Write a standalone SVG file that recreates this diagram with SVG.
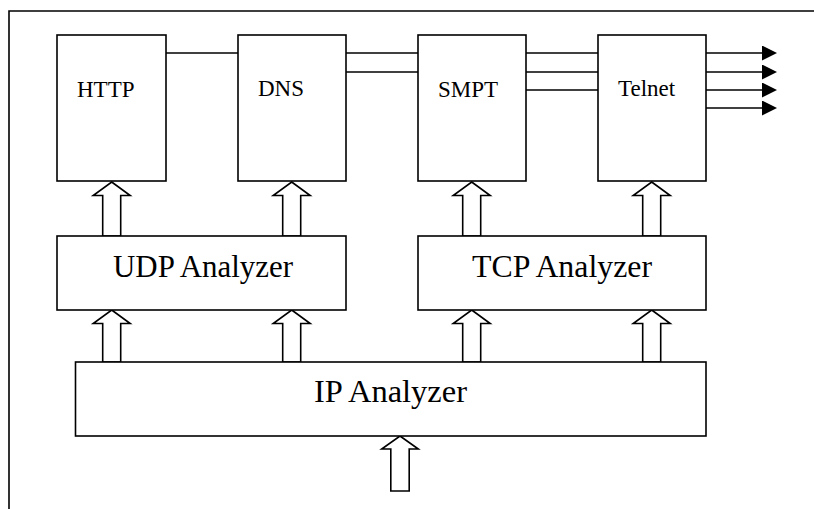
<svg xmlns="http://www.w3.org/2000/svg" width="814" height="509" viewBox="0 0 814 509">
  <style>
    .box { fill: #fff; stroke: #000; stroke-width: 1.6; }
    .ln { stroke: #000; stroke-width: 1.6; fill: none; }
    .hollow { fill: #fff; stroke: #000; stroke-width: 1.6; stroke-linejoin: miter; }
    .sm { font-family: "Liberation Serif", "Times New Roman", serif; font-size: 23px; fill: #000; }
    .lg { font-family: "Liberation Serif", "Times New Roman", serif; font-size: 31px; fill: #000; }
  </style>
  <defs>
    <marker id="tri" markerWidth="15" markerHeight="15" refX="0" refY="7.5" orient="auto" markerUnits="userSpaceOnUse">
      <path d="M0,0 L15,7.5 L0,15 Z" fill="#000"/>
    </marker>
  </defs>
  <rect width="814" height="509" fill="#fff"/>

  <g id="frame">
    <path class="ln" d="M9,509 V11 H814" stroke-width="2"/>
  </g>

  <g id="connectors">
    <line class="ln" x1="166" y1="53" x2="238" y2="53"/>
    <line class="ln" x1="346" y1="53" x2="418" y2="53"/>
    <line class="ln" x1="346" y1="72" x2="418" y2="72"/>
    <line class="ln" x1="526" y1="53" x2="598" y2="53"/>
    <line class="ln" x1="526" y1="72" x2="598" y2="72"/>
    <line class="ln" x1="526" y1="90" x2="598" y2="90"/>
    <line class="ln" x1="706" y1="53" x2="762" y2="53" marker-end="url(#tri)"/>
    <line class="ln" x1="706" y1="72" x2="762" y2="72" marker-end="url(#tri)"/>
    <line class="ln" x1="706" y1="90" x2="762" y2="90" marker-end="url(#tri)"/>
    <line class="ln" x1="706" y1="108" x2="762" y2="108" marker-end="url(#tri)"/>
    <!-- hollow arrows: upper row -->
    <polygon class="hollow" points="111.7,182 130.2,195.5 120.7,195.5 120.7,236 102.7,236 102.7,195.5 93.2,195.5"/>
    <polygon class="hollow" points="291.7,182 310.2,195.5 300.7,195.5 300.7,236 282.7,236 282.7,195.5 273.2,195.5"/>
    <polygon class="hollow" points="471.7,182 490.2,195.5 480.7,195.5 480.7,236 462.7,236 462.7,195.5 453.2,195.5"/>
    <polygon class="hollow" points="651.7,182 670.2,195.5 660.7,195.5 660.7,236 642.7,236 642.7,195.5 633.2,195.5"/>
    <!-- hollow arrows: lower row -->
    <polygon class="hollow" points="111.7,310 130.2,323.5 120.7,323.5 120.7,362 102.7,362 102.7,323.5 93.2,323.5"/>
    <polygon class="hollow" points="291.7,310 310.2,323.5 300.7,323.5 300.7,362 282.7,362 282.7,323.5 273.2,323.5"/>
    <polygon class="hollow" points="471.7,310 490.2,323.5 480.7,323.5 480.7,362 462.7,362 462.7,323.5 453.2,323.5"/>
    <polygon class="hollow" points="651.7,310 670.2,323.5 660.7,323.5 660.7,362 642.7,362 642.7,323.5 633.2,323.5"/>
    <!-- input arrow -->
    <polygon class="hollow" points="400,436 418.3,449 409.2,449 409.2,491 390.8,491 390.8,449 381.7,449"/>
  </g>

  <g id="http">
    <rect class="box" x="57" y="35" width="109" height="146"/>
    <text class="sm" x="77" y="96.5">HTTP</text>
  </g>
  <g id="dns">
    <rect class="box" x="238" y="35" width="108" height="146"/>
    <text class="sm" x="258" y="96">DNS</text>
  </g>
  <g id="smpt">
    <rect class="box" x="418" y="35" width="108" height="146"/>
    <text class="sm" x="438" y="96.5">SMPT</text>
  </g>
  <g id="telnet">
    <rect class="box" x="598" y="35" width="108" height="146"/>
    <text class="sm" x="618" y="96">Telnet</text>
  </g>
  <g id="udp">
    <rect class="box" x="57" y="236" width="289" height="74"/>
    <text class="lg" x="113" y="277" textLength="180" lengthAdjust="spacingAndGlyphs">UDP Analyzer</text>
  </g>
  <g id="tcp">
    <rect class="box" x="418" y="236" width="288" height="74"/>
    <text class="lg" x="472" y="277" textLength="180" lengthAdjust="spacingAndGlyphs">TCP Analyzer</text>
  </g>
  <g id="ip">
    <rect class="box" x="75.5" y="362" width="630.5" height="74"/>
    <text class="lg" x="314" y="402" textLength="153" lengthAdjust="spacingAndGlyphs">IP Analyzer</text>
  </g>
</svg>
